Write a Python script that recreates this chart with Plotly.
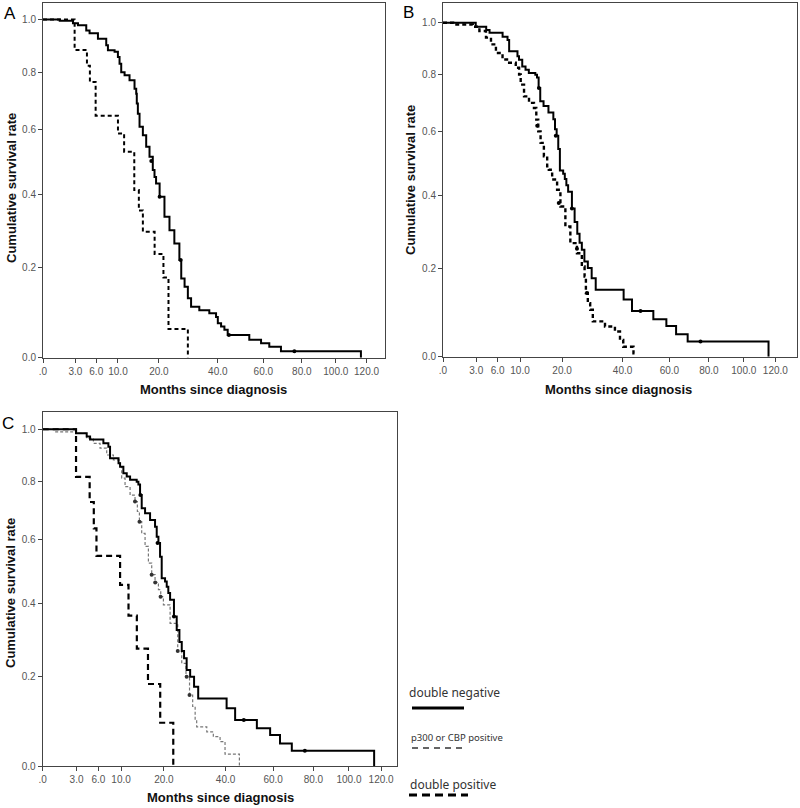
import numpy as np
import plotly.graph_objects as go

# Kaplan-Meier curves (months, cumulative survival)
# panel A
a_neg_t = [0, 1.3, 2.71, 3.33, 4.46, 4.95, 6.28, 7.73, 8.04, 9.32, 9.99, 10.33, 10.68, 11.4, 12.5,
           13.66, 14.06, 14.2, 14.46, 14.87, 15.7, 16.55, 17.42, 18.3, 18.77, 19.2, 20.2, 21.6,
           23.1, 24.6, 26.2, 26.8, 27.9, 29.0, 30.1, 33.0, 36.7, 39.3, 40.0, 41.3, 42.65, 44.0,
           53.4, 58.9, 62.9, 68.8, 116.2]
a_neg_s = [1.0, 0.995, 0.985, 0.977, 0.957, 0.946, 0.925, 0.90, 0.881, 0.876, 0.856, 0.831, 0.80,
           0.789, 0.771, 0.741, 0.723, 0.689, 0.654, 0.61, 0.582, 0.545, 0.513, 0.472, 0.451, 0.431,
           0.392, 0.335, 0.298, 0.263, 0.22, 0.174, 0.154, 0.127, 0.108, 0.10, 0.093, 0.085, 0.071,
           0.064, 0.057, 0.046, 0.036, 0.029, 0.022, 0.013, 0.0]
a_pos_t = [0, 2.91, 4.56, 5.0, 5.9, 10.0, 11.3, 13.6, 14.7, 15.7, 18.8, 21.3, 22.8, 29.0]
a_pos_s = [1.0, 15/17, 14/17, 13/17, 11/17, 10/17, 9/17, 7/17, 6/17, 5/17, 4/17, 3/17, 1/17, 0.0]
a_cens_t = [17.9, 20.2, 26.6, 44.5, 75.9]
a_cens_s = [0.50, 0.392, 0.22, 0.046, 0.013]

# panels B and C: double negative (shared)
neg_t = [0, 2.94, 4.29, 4.76, 6.80, 7.65, 7.94, 9.5, 9.8, 10.45, 11.13, 11.83, 13.27, 13.65, 14.03,
         14.41, 15.2, 16.41, 17.66, 18.09, 18.53, 18.96, 19.4, 20.3, 20.76, 21.2, 21.7, 22.8, 23.6,
         24.4, 25.1, 25.8, 26.6, 27.7, 28.95, 30.3, 40.4, 43.7, 52.7, 58.6, 63.2, 68.9, 115.5]
neg_s = [1.0, 0.984, 0.971, 0.96, 0.945, 0.932, 0.888, 0.869, 0.856, 0.831, 0.819, 0.807, 0.80,
         0.79, 0.752, 0.705, 0.688, 0.665, 0.642, 0.608, 0.587, 0.543, 0.475, 0.465, 0.449, 0.43,
         0.41, 0.361, 0.323, 0.29, 0.266, 0.247, 0.217, 0.20, 0.175, 0.147, 0.124, 0.097, 0.079,
         0.064, 0.046, 0.031, 0.0]
neg_cens_t = [14.1, 18.3, 22.8, 47.2, 75.5]
neg_cens_s = [0.752, 0.587, 0.361, 0.097, 0.031]

# panel B: positive
b_pos_t = [0, 0.7, 2.59, 3.39, 4.26, 4.97, 5.72, 6.79, 7.94, 9.17, 9.82, 10.14, 10.82, 11.87, 12.96,
           13.49, 13.94, 14.49, 15.28, 16.09, 16.5, 17.35, 18.65, 19.54, 20.92, 22.34, 24.3, 25.8,
           26.66, 27.08, 27.7, 28.46, 29.33, 33.5, 37.1, 39.0, 40.25, 44.3, 45.3]
b_pos_s = [1.0, 0.993, 0.984, 0.967, 0.941, 0.915, 0.882, 0.857, 0.845, 0.826, 0.801, 0.764, 0.722,
           0.699, 0.681, 0.641, 0.601, 0.563, 0.52, 0.488, 0.477, 0.447, 0.416, 0.367, 0.31, 0.265,
           0.238, 0.204, 0.179, 0.139, 0.115, 0.10, 0.074, 0.063, 0.052, 0.034, 0.020, 0.007, 0.007]
b_cens_t = [13.7, 19.1, 24.3, 27.4]
b_cens_s = [0.62, 0.377, 0.25, 0.139]

# panel C: p300 or CBP positive
c_one_t = [0, 0.86, 2.94, 4.29, 5.24, 6.26, 7.36, 8.54, 9.80, 10.12, 10.79, 11.83, 12.9, 13.42, 13.88,
           14.41, 15.2, 16.0, 16.82, 17.66, 18.53, 19.14, 19.85, 21.7, 23.9, 25.1, 26.4, 27.5, 28.5,
           29.3, 29.8, 33.2, 35.5, 37.95, 39.8, 45.4]
c_one_s = [1.0, 0.99, 0.984, 0.964, 0.945, 0.926, 0.90, 0.881, 0.856, 0.813, 0.782, 0.752, 0.729,
           0.694, 0.659, 0.619, 0.576, 0.522, 0.486, 0.462, 0.44, 0.419, 0.395, 0.342, 0.266, 0.234,
           0.20, 0.155, 0.128, 0.097, 0.082, 0.071, 0.0605, 0.05, 0.024, 0.0]
c_one_cens_t = [12.9, 13.9, 16.8, 17.7, 19.1, 23.9, 26.6, 27.5]
c_one_cens_s = [0.729, 0.659, 0.486, 0.462, 0.419, 0.266, 0.20, 0.155]

# panel C: double positive
c_dbl_t = [0, 2.94, 4.7, 5.3, 5.7, 9.8, 11.5, 13.3, 15.9, 19.0, 22.6]
c_dbl_s = [1.0, 9/11, 8/11, 7/11, 6/11, 5/11, 4/11, 3/11, 2/11, 1/11, 0.0]

x_ticks = [0, 3, 6, 10, 20, 40, 60, 80, 100, 120]
x_labels = ['.0', '3.0', '6.0', '10.0', '20.0', '40.0', '60.0', '80.0', '100.0', '120.0']
y_ticks = [0, 0.2, 0.4, 0.6, 0.8, 1.0]
y_labels = ['0.0', '0.2', '0.4', '0.6', '0.8', '1.0']

legend_names = ['double negative', 'p300 or CBP positive', 'double positive']


# the published axes are stretched (square-root like) in both directions
def sx(t):
    return np.sqrt(np.asarray(t, dtype=float) + 1) - 1


def sy(s):
    return np.sqrt(np.asarray(s, dtype=float) + 0.33) - np.sqrt(0.33)


W, H = 800, 808


def px(x):
    return x / W


def py(y):
    return 1 - y / H


fig = go.Figure()

solid = dict(color='black', width=2)


def km(t, s, line, xa, ya):
    fig.add_trace(go.Scatter(x=sx(t), y=sy(s), mode='lines', line=line, line_shape='hv',
                             xaxis=xa, yaxis=ya, showlegend=False, hoverinfo='skip'))


def cens(t, s, xa, ya, color='black'):
    fig.add_trace(go.Scatter(x=sx(t), y=sy(s), mode='markers',
                             marker=dict(color=color, size=4), xaxis=xa, yaxis=ya,
                             showlegend=False, hoverinfo='skip'))


# A
km(a_pos_t, a_pos_s, dict(color='black', width=2, dash='4px,3px'), 'x', 'y')
km(a_neg_t, a_neg_s, solid, 'x', 'y')
cens(a_cens_t, a_cens_s, 'x', 'y')
# B
km(b_pos_t, b_pos_s, dict(color='black', width=2.4, dash='4px,3px'), 'x2', 'y2')
km(neg_t, neg_s, solid, 'x2', 'y2')
cens(b_cens_t, b_cens_s, 'x2', 'y2')
cens(neg_cens_t, neg_cens_s, 'x2', 'y2')
# C
km(c_dbl_t, c_dbl_s, dict(color='black', width=2.2, dash='6px,4px'), 'x3', 'y3')
km(c_one_t, c_one_s, dict(color='#777777', width=1.2, dash='3px,2px'), 'x3', 'y3')
km(neg_t, neg_s, solid, 'x3', 'y3')
cens(c_one_cens_t, c_one_cens_s, 'x3', 'y3', color='#333333')
cens(neg_cens_t, neg_cens_s, 'x3', 'y3')

tick_font = dict(family='Arial', size=10, color='#555555')


def xaxis(dom, rmax, anchor):
    return dict(domain=dom, range=[0, rmax], tickvals=list(sx(x_ticks)), ticktext=x_labels,
                showline=True, mirror=True, linecolor='#444444', linewidth=1, ticks='outside',
                ticklen=4, tickcolor='#444444', showgrid=False, zeroline=False, tickfont=tick_font,
                anchor=anchor, automargin=False)


def yaxis(dom, rmax, anchor):
    return dict(domain=dom, range=[0, rmax], tickvals=list(sy(y_ticks)), ticktext=y_labels,
                showline=True, mirror=True, linecolor='#444444', linewidth=1, ticks='outside',
                ticklen=4, tickcolor='#444444', showgrid=False, zeroline=False, tickfont=tick_font,
                anchor=anchor, automargin=False)


def note(text, x, y, font, **kw):
    d = dict(text=text, x=px(x), y=py(y), xref='paper', yref='paper', showarrow=False,
             xanchor='center', yanchor='middle', font=font)
    d.update(kw)
    return d


title_font = dict(family='Arial', size=13, color='#111111')
annotations = []
for lab, x, y in [('A', 10, 13), ('B', 408, 12), ('C', 8, 423)]:
    annotations.append(note(lab, x, y, dict(family='Arial', size=17, color='black')))
for x, y in [(213, 389), (618, 389), (220, 797)]:
    annotations.append(note('<b>Months since diagnosis</b>', x, y, title_font))
for x, y in [(11, 188), (411, 180), (10, 593)]:
    annotations.append(note('<b>Cumulative survival rate</b>', x, y, title_font, textangle=-90))

# legend (text above each line sample)
for name, y, size, xl in [(legend_names[0], 692, 12, 407), (legend_names[1], 737, 9.5, 409),
                          (legend_names[2], 784, 12, 408)]:
    annotations.append(note(name, xl, y, dict(family='Noto Sans', size=size, color='#333333'),
                            xanchor='left'))
shapes = [
    dict(type='line', xref='paper', yref='paper', x0=px(412), x1=px(464), y0=py(708), y1=py(708),
         line=dict(color='black', width=3)),
    dict(type='line', xref='paper', yref='paper', x0=px(412), x1=px(466), y0=py(748), y1=py(748),
         line=dict(color='#333333', width=1.5, dash='6px,5px')),
    dict(type='line', xref='paper', yref='paper', x0=px(409), x1=px(468), y0=py(795), y1=py(795),
         line=dict(color='black', width=3, dash='8px,5px')),
]

fig.update_layout(
    width=W, height=H,
    margin=dict(l=0, r=0, t=0, b=0, autoexpand=False),
    paper_bgcolor='white', plot_bgcolor='white',
    xaxis=xaxis([px(43), px(385)], 10.57, 'y'),
    yaxis=yaxis([py(357.7), py(3)], 0.607, 'x'),
    xaxis2=xaxis([px(443), px(797)], 10.65, 'y2'),
    yaxis2=yaxis([py(356.7), py(3)], 0.613, 'x2'),
    xaxis3=xaxis([px(42.7), px(396.7)], 10.46, 'y3'),
    yaxis3=yaxis([py(766), py(411.7)], 0.609, 'x3'),
    annotations=annotations,
    shapes=shapes,
    showlegend=False,
)

# the page body has a default 8px margin; drop it so the figure sits at the window origin
fig.write_html('out.html', config={'displayModeBar': False},
               post_script="document.body.style.margin='0';"
                           "document.documentElement.style.overflow='hidden';")
